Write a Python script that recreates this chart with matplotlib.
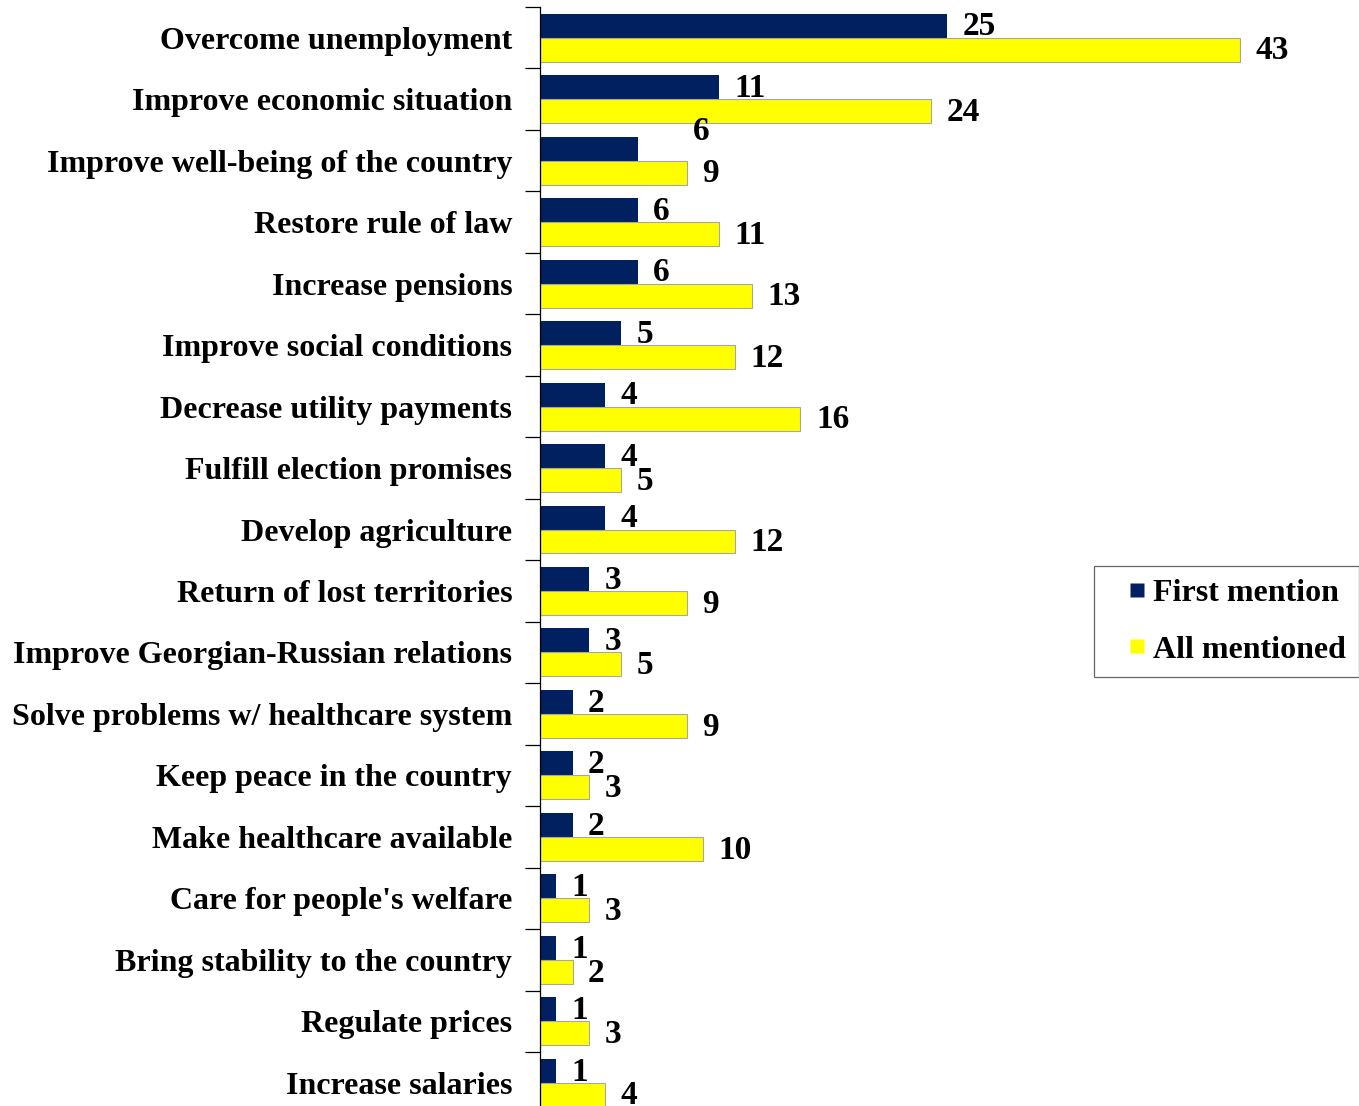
import matplotlib
matplotlib.use("Agg")
import matplotlib.pyplot as plt
import numpy as np
from matplotlib.lines import Line2D

categories = [
    "Overcome unemployment",
    "Improve economic situation",
    "Improve well-being of the country",
    "Restore rule of law",
    "Increase pensions",
    "Improve social conditions",
    "Decrease utility payments",
    "Fulfill election promises",
    "Develop agriculture",
    "Return of lost territories",
    "Improve Georgian-Russian relations",
    "Solve problems w/ healthcare system",
    "Keep peace in the country",
    "Make healthcare available",
    "Care for people's welfare",
    "Bring stability to the country",
    "Regulate prices",
    "Increase salaries",
]
first_mention = [25, 11, 6, 6, 6, 5, 4, 4, 4, 3, 3, 2, 2, 2, 1, 1, 1, 1]
all_mentioned = [43, 24, 9, 11, 13, 12, 16, 5, 12, 9, 5, 9, 3, 10, 3, 2, 3, 4]
series_names = ["First mention", "All mentioned"]

NAVY = "#002060"
YELLOW = "#FFFF00"
FONT = "Liberation Serif"

W, H = 1359, 1106
fig = plt.figure(figsize=(W / 100, H / 100), dpi=100)
ax_left = 540 / W
ax_width = 814 / W
ax_top_px = 7
ax_bot_px = 1113.5
ax = fig.add_axes([ax_left, (H - ax_bot_px) / H, ax_width, (ax_bot_px - ax_top_px) / H])

n = len(categories)
y = np.arange(n)
bh = 0.39
ax.barh(y - bh / 2, first_mention, height=bh, color=NAVY, edgecolor="none")
ax.barh(y + bh / 2, all_mentioned, height=bh, color=YELLOW, edgecolor="#a6a6a6", linewidth=0.8)

ax.set_xlim(0, 50)
ax.set_ylim(n - 0.5, -0.5)

fs = 23
nfs = 24
dx = 0.95
voff = 0.02
for i, (a, b) in enumerate(zip(first_mention, all_mentioned)):
    if i == 2:
        ax.text(9.4, i - 0.5 + voff, str(a), ha="left", va="center", fontsize=nfs,
                fontweight="bold", family=FONT)
    else:
        ax.text(a + dx, i - bh / 2 + voff, str(a), ha="left", va="center", fontsize=nfs,
                fontweight="bold", family=FONT)
    ax.text(b + dx, i + bh / 2 + voff, str(b), ha="left", va="center", fontsize=nfs,
            fontweight="bold", family=FONT)

ax.set_yticks(y)
ax.set_yticklabels(categories, fontsize=fs, fontweight="bold", family=FONT)
ax.set_yticks(np.arange(-0.5, n, 1), minor=True)
ax.tick_params(axis="y", which="major", length=0, pad=20)
ax.tick_params(axis="y", which="minor", length=10.5, width=0.9, direction="out")
ax.set_xticks([])
for s in ["top", "right", "bottom"]:
    ax.spines[s].set_visible(False)
ax.spines["left"].set_linewidth(0.9)

handles = [Line2D([], [], marker="s", linestyle="none", markersize=10,
                  markerfacecolor=c, markeredgecolor="none") for c in (NAVY, YELLOW)]
leg = fig.legend(handles, series_names, loc="upper left",
                 bbox_to_anchor=(1094 / W, 1 - 566 / H),
                 prop={"family": FONT, "weight": "bold", "size": fs},
                 frameon=True, fancybox=False, handlelength=1.9,
                 handletextpad=-0.45, labelspacing=0.85, borderpad=0.4, borderaxespad=0)
leg.get_frame().set_edgecolor("#404040")
leg.get_frame().set_linewidth(0.9)

fig.savefig("out.png", dpi=100)
